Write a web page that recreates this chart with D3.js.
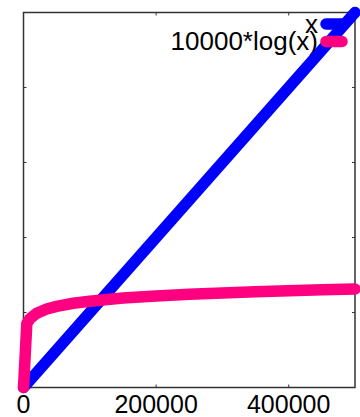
<!DOCTYPE html>
<html>
<head>
<meta charset="utf-8">
<script src="https://cdn.jsdelivr.net/npm/d3@7"></script>
<style>
  body { margin: 0; background: #fff; }
  svg { display: block; font-family: "Liberation Sans", Arial, sans-serif; }
</style>
</head>
<body>
<svg width="360" height="417"></svg>
<script>
// series
const linX = [0, 500000];
const linY = [0, 500000];

const logX = [1, 5000, 10000, 20000, 35000, 50000, 75000, 100000, 150000, 200000,
  250000, 300000, 350000, 400000, 450000, 500000];
const logY = [0, 85200, 92100, 99000, 104600, 108200, 112300, 115100, 119200, 122100,
  124300, 126100, 127600, 129000, 130200, 131200];

const xTicks = [0, 200000, 400000];
const yTicks = [0, 100000, 200000, 300000, 400000, 500000];
const legendNames = ["x", "10000*log(x)"];
const colors = ["#0000ff", "#ff0080"];

const svg = d3.select("svg");
const width = 360, height = 417;
const margin = { top: 12.5, right: 5, bottom: 29.5, left: 23.5 };

const x = d3.scaleLinear()
  .domain([0, 500000])
  .range([margin.left, width - margin.right]);
const y = d3.scaleLinear()
  .domain([0, 500000])
  .range([height - margin.bottom, margin.top]);

// frame
svg.append("rect")
  .attr("x", x(0)).attr("y", y(500000))
  .attr("width", x(500000) - x(0)).attr("height", y(0) - y(500000))
  .attr("fill", "none").attr("stroke", "#333").attr("stroke-width", 1.5);

// inward ticks, mirrored
const tickLen = 3;
yTicks.slice(1, -1).forEach(t => {
  svg.append("line").attr("x1", x(0)).attr("x2", x(0) + tickLen)
    .attr("y1", y(t)).attr("y2", y(t)).attr("stroke", "#333");
  svg.append("line").attr("x1", x(500000)).attr("x2", x(500000) - tickLen)
    .attr("y1", y(t)).attr("y2", y(t)).attr("stroke", "#333");
});
xTicks.slice(1).forEach(t => {
  svg.append("line").attr("x1", x(t)).attr("x2", x(t))
    .attr("y1", y(0)).attr("y2", y(0) - tickLen).attr("stroke", "#333");
  svg.append("line").attr("x1", x(t)).attr("x2", x(t))
    .attr("y1", y(500000)).attr("y2", y(500000) + tickLen).attr("stroke", "#333");
});

// x tick labels
svg.append("g").selectAll("text")
  .data(xTicks)
  .join("text")
  .attr("x", d => x(d))
  .attr("y", 413)
  .attr("text-anchor", "middle")
  .style("font-size", "25px")
  .text(d => d);

const line = d3.line()
  .x(d => x(d[0]))
  .y(d => y(d[1]));

const series = [
  d3.zip(linX, linY),
  d3.zip(logX, logY)
];

// legend text drawn under the lines
legendNames.forEach((name, i) => {
  svg.append("text")
    .attr("x", 318)
    .attr("y", 33 + i * 17)
    .attr("text-anchor", "end")
    .style("font-size", "26px")
    .text(name);
});

series.forEach((s, i) => {
  svg.append("path")
    .datum(s)
    .attr("d", line)
    .attr("fill", "none")
    .attr("stroke", colors[i])
    .attr("stroke-width", 11.5)
    .attr("stroke-linecap", "round")
    .attr("stroke-linejoin", "round");
});

// legend samples
legendNames.forEach((name, i) => {
  svg.append("line")
    .attr("x1", 326).attr("x2", 342)
    .attr("y1", 24 + i * 17.5).attr("y2", 24 + i * 17.5)
    .attr("stroke", colors[i])
    .attr("stroke-width", 11.5)
    .attr("stroke-linecap", "round");
});
</script>
</body>
</html>
